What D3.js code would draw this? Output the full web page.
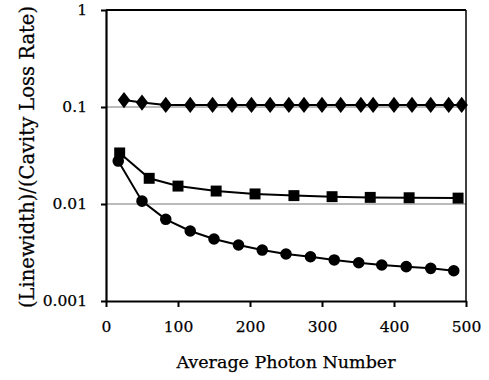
<!DOCTYPE html>
<html>
<head>
<meta charset="utf-8">
<script src="https://cdn.jsdelivr.net/npm/d3@7"></script>
<style>
  body { margin: 0; background: #fff; }
  text { font-family: "DejaVu Serif", serif; fill: #000; stroke: #000; stroke-width: 0.25; }
</style>
</head>
<body>
<div id="chart"></div>
<script>
// values
var diamondX = [25, 50, 83, 117, 148, 175, 202, 228, 254, 275, 300, 326, 354, 371, 400, 425, 451, 476, 494];
var diamondY = [0.118, 0.111, 0.105, 0.105, 0.105, 0.105, 0.105, 0.105, 0.105, 0.105, 0.105, 0.105, 0.105, 0.105, 0.105, 0.105, 0.105, 0.105, 0.105];

var squareX = [19, 60, 100, 153, 207, 261, 314, 367, 421, 489];
var squareY = [0.0336, 0.0184, 0.0153, 0.0136, 0.0127, 0.0122, 0.0119, 0.0117, 0.0116, 0.0115];

var circleX = [17, 50, 83, 117, 150, 184, 217, 250, 284, 317, 351, 383, 417, 451, 483];
var circleY = [0.0277, 0.0107, 0.00695, 0.00527, 0.00436, 0.00378, 0.00335, 0.00305, 0.00286, 0.00265, 0.00248, 0.00235, 0.00226, 0.00217, 0.00205];

var xTicks = [0, 100, 200, 300, 400, 500];
var yTicks = [0.001, 0.01, 0.1, 1];
var yTickLabels = ["0.001", "0.01", "0.1", "1"];
var gridValues = [0.01, 0.1];

function draw(){
  var width = 489,
      height = 380;

  var svg = d3.select("#chart")
    .append("svg")
    .attr("width", width)
    .attr("height", height);

  var x = d3.scaleLinear().domain([0, 500]).range([106, 466]);
  var y = d3.scaleLog().domain([0.001, 1]).range([301, 10]);

  // grid lines at 0.1 and 0.01
  svg.selectAll(".grid")
    .data(gridValues)
    .enter().append("line")
    .attr("x1", x(0)).attr("x2", x(500))
    .attr("y1", function(d){ return y(d); })
    .attr("y2", function(d){ return y(d); })
    .attr("stroke", "#777")
    .attr("stroke-width", 1);

  // frame top / right
  svg.append("line")
    .attr("x1", x(0)).attr("x2", x(500))
    .attr("y1", y(1)).attr("y2", y(1))
    .attr("stroke", "#000").attr("stroke-width", 2);
  svg.append("line")
    .attr("x1", x(500)).attr("x2", x(500))
    .attr("y1", y(1)).attr("y2", y(0.001))
    .attr("stroke", "#000").attr("stroke-width", 1.5);

  var xAxis = svg.append("g")
    .attr("transform", "translate(0," + y(0.001) + ")")
    .call(d3.axisBottom(x).tickValues(xTicks).tickSize(6).tickPadding(14).tickSizeOuter(0));

  var yAxis = svg.append("g")
    .attr("transform", "translate(" + x(0) + ",0)")
    .call(d3.axisLeft(y).tickValues(yTicks).tickSize(5).tickPadding(14).tickSizeOuter(0)
      .tickFormat(function(d, i){ return yTickLabels[i]; }));

  [xAxis, yAxis].forEach(function(g){
    g.select(".domain").attr("stroke-width", 2.2);
    g.selectAll(".tick line").attr("stroke-width", 2);
    g.selectAll("text").attr("font-size", 15.5).attr("font-family", "DejaVu Serif");
  });

  // axis titles
  svg.append("text")
    .attr("x", 286).attr("y", 368)
    .attr("text-anchor", "middle")
    .attr("font-size", 17.5)
    .text("Average Photon Number");

  svg.append("text")
    .attr("transform", "translate(34,157) rotate(-90)")
    .attr("text-anchor", "middle")
    .attr("font-size", 19.5)
    .text("(Linewidth)/(Cavity Loss Rate)");

  var line = d3.line()
    .x(function(d){ return x(d[0]); })
    .y(function(d){ return y(d[1]); });

  var series = [
    { xs: diamondX, ys: diamondY, shape: d3.symbolDiamond, size: 85, sx: 1.25, sy: 0.95 },
    { xs: squareX,  ys: squareY,  shape: d3.symbolSquare,  size: 120, sx: 1, sy: 1 },
    { xs: circleX,  ys: circleY,  shape: d3.symbolCircle,  size: 105, sx: 1, sy: 1 }
  ];

  series.forEach(function(s){
    var pts = s.xs.map(function(v, i){ return [v, s.ys[i]]; });
    svg.append("path")
      .datum(pts)
      .attr("fill", "none")
      .attr("stroke", "#000")
      .attr("stroke-width", 2)
      .attr("d", line);
    svg.selectAll(null)
      .data(pts)
      .enter().append("path")
      .attr("transform", function(d){
        return "translate(" + x(d[0]) + "," + y(d[1]) + ") scale(" + s.sx + "," + s.sy + ")";
      })
      .attr("d", d3.symbol().type(s.shape).size(s.size))
      .attr("fill", "#000");
  });
}

draw();
</script>
</body>
</html>
